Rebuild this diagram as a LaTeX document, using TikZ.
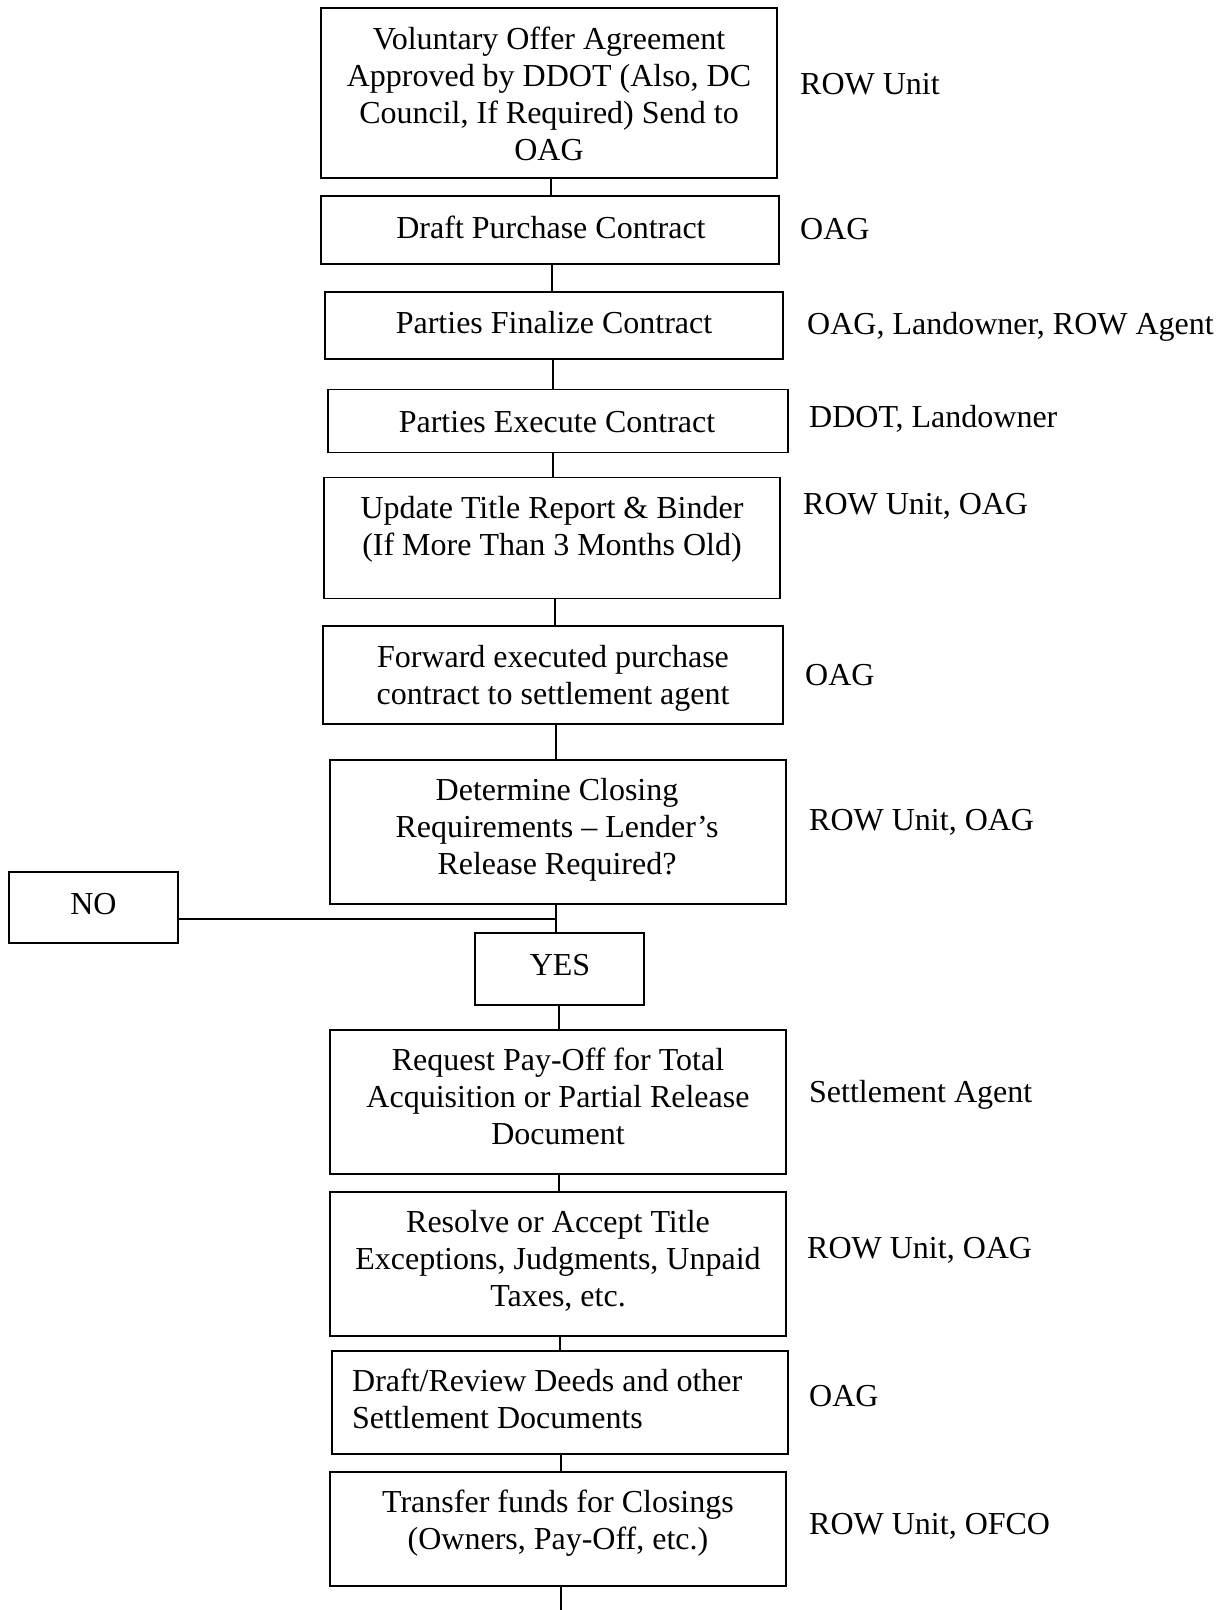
\documentclass[tikz,border=0pt]{standalone}
\usepackage{fontspec}
\setmainfont{Liberation Serif}
\begin{document}
\begin{tikzpicture}[x=1pt,y=-1pt,
  box/.style={draw=black,line width=1.6pt,rectangle,inner sep=0pt},
  txt/.style={inner sep=0pt,align=center,font=\fontsize{32}{37}\selectfont},
  lbl/.style={inner sep=0pt,anchor=base west,font=\fontsize{32}{37}\selectfont},
  conn/.style={draw=black,line width=1.6pt}]
\useasboundingbox[fill=white] (0,0) rectangle (1228,1610);

% boxes
\node[box,minimum width=456pt,minimum height=170pt] (b1) at (549,93) {};
\node[box,minimum width=458pt,minimum height=68pt] (b2) at (550,230) {};
\node[box,minimum width=458pt,minimum height=67pt] (b3) at (554,325.5) {};
\node[box,minimum width=460pt,minimum height=63pt] (b4) at (558,421) {};
\node[box,minimum width=456pt,minimum height=121pt] (b5) at (552,538) {};
\node[box,minimum width=460pt,minimum height=98pt] (b6) at (553,675) {};
\node[box,minimum width=456pt,minimum height=144pt] (b7) at (558,832) {};
\node[box,minimum width=169pt,minimum height=71pt] (no) at (93.5,907.5) {};
\node[box,minimum width=169pt,minimum height=72pt] (yes) at (559.5,969) {};
\node[box,minimum width=456pt,minimum height=144pt] (b8) at (558,1102) {};
\node[box,minimum width=456pt,minimum height=144pt] (b9) at (558,1264) {};
\node[box,minimum width=456pt,minimum height=103pt] (b10) at (560,1402.5) {};
\node[box,minimum width=456pt,minimum height=114pt] (b11) at (558,1529) {};

% box texts
\node[txt] (t1) at (549,94) {Voluntary Offer Agreement\\Approved by DDOT (Also, DC\\Council, If Required) Send to\\OAG};
\node[txt] (t2) at (551,227) {Draft Purchase Contract};
\node[txt] (t3) at (554,323) {Parties Finalize Contract};
\node[txt] (t4) at (557,422) {Parties Execute Contract};
\node[txt] (t5) at (552,529) {Update Title Report \& Binder\\(If More Than 3 Months Old)};
\node[txt] (t6) at (553,678) {Forward executed purchase\\contract to settlement agent};
\node[txt] (t7) at (557,830) {Determine Closing\\Requirements -- Lender's\\Release Required?};
\node[txt] (tno) at (93.5,904) {NO};
\node[txt] (tyes) at (560,965) {YES};
\node[txt] (t8) at (558,1096) {Request Pay-Off for Total\\Acquisition or Partial Release\\Document};
\node[txt] (t9) at (558,1261) {Resolve or Accept Title\\Exceptions, Judgments, Unpaid\\Taxes, etc.};
\node[txt,align=left,anchor=west] (t10) at (352,1399) {Draft/Review Deeds and other\\Settlement Documents};
\node[txt] (t11) at (558,1523.5) {Transfer funds for Closings\\(Owners, Pay-Off, etc.)};

% side labels (baseline = visual centre + 10.5)
\node[lbl] (l1) at (800,94.5) {ROW Unit};
\node[lbl] (l2) at (800,239.5) {OAG};
\node[lbl] (l3) at (807,334) {OAG, Landowner, ROW Agent};
\node[lbl] (l4) at (809,427) {DDOT, Landowner};
\node[lbl] (l5) at (803,514) {ROW Unit, OAG};
\node[lbl] (l6) at (805,685.5) {OAG};
\node[lbl] (l7) at (809,830) {ROW Unit, OAG};
\node[lbl] (l8) at (809,1102) {Settlement Agent};
\node[lbl] (l9) at (807,1258) {ROW Unit, OAG};
\node[lbl] (l10) at (809,1406.5) {OAG};
\node[lbl] (l11) at (809,1534.5) {ROW Unit, OFCO};

% connectors
\coordinate (c12) at (551,0);
\coordinate (c23) at (552,0);
\coordinate (c34) at (553,0);
\coordinate (c45) at (553,0);
\coordinate (c56) at (555,0);
\coordinate (c67) at (556,0);
\coordinate (j) at (556,919);
\coordinate (cy8) at (559,0);
\coordinate (c89) at (559,0);
\coordinate (c910) at (560,0);
\coordinate (c1011) at (561,0);
\coordinate (endpt) at (561,1610);

\draw[conn] (c12 |- b1.south) -- (c12 |- b2.north);
\draw[conn] (c23 |- b2.south) -- (c23 |- b3.north);
\draw[conn] (c34 |- b3.south) -- (c34 |- b4.north);
\draw[conn] (c45 |- b4.south) -- (c45 |- b5.north);
\draw[conn] (c56 |- b5.south) -- (c56 |- b6.north);
\draw[conn] (c67 |- b6.south) -- (c67 |- b7.north);
\draw[conn] (j |- b7.south) -- (j |- yes.north);
\draw[conn] (no.east |- j) -- (j);
\draw[conn] (cy8 |- yes.south) -- (cy8 |- b8.north);
\draw[conn] (c89 |- b8.south) -- (c89 |- b9.north);
\draw[conn] (c910 |- b9.south) -- (c910 |- b10.north);
\draw[conn] (c1011 |- b10.south) -- (c1011 |- b11.north);
\draw[conn] (c1011 |- b11.south) -- (endpt);
\end{tikzpicture}
\end{document}
